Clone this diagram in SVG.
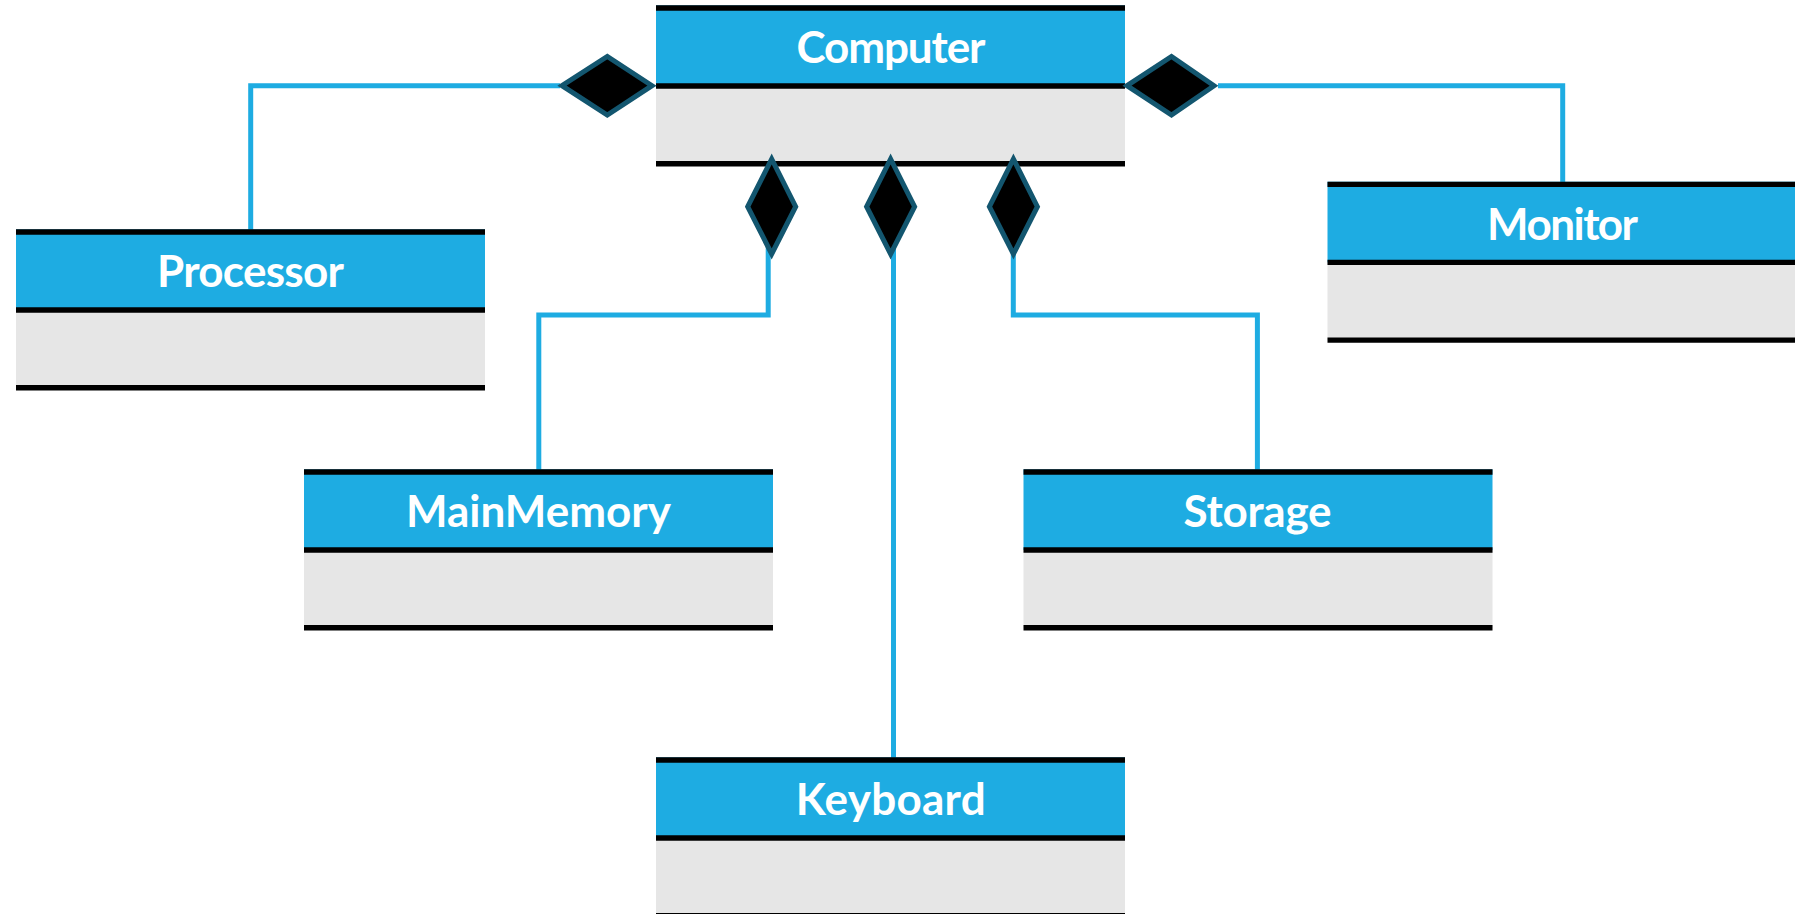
<svg xmlns="http://www.w3.org/2000/svg" width="1795" height="914" viewBox="0 0 1795 914">
  <style>
    .hdr { fill: #1EACE2; }
    .body { fill: #E6E6E6; }
    .rule { stroke: #000000; stroke-width: 5.4; fill: none; }
    .name { fill: #FFFFFF; font-family: Lato, "Open Sans", "DejaVu Sans", sans-serif; font-weight: 700; font-size: 44px; text-anchor: middle; }
    .link { stroke: #1EACE2; stroke-width: 5; fill: none; stroke-linejoin: miter; stroke-linecap: butt; }
    .comp { fill: #000000; stroke: #13566F; stroke-width: 5; stroke-linejoin: miter; stroke-miterlimit: 10; }
  </style>
  <defs>
    <!-- UML class box: header, separator, empty attribute compartment -->
    <g id="classBox">
      <rect class="hdr" x="0" y="0" width="469" height="80.7"/>
      <rect class="body" x="0" y="80.7" width="469" height="77.7"/>
      <line class="rule" x1="0" y1="2.7" x2="469" y2="2.7"/>
      <line class="rule" x1="0" y1="80.7" x2="469" y2="80.7"/>
      <line class="rule" x1="0" y1="158.4" x2="469" y2="158.4"/>
    </g>
  </defs>

  <rect width="1795" height="914" fill="#FFFFFF"/>

  <!-- connectors (composition links) -->
  <g id="connectors">
    <polyline class="link" points="560,85.7 250.7,85.7 250.7,230"/>
    <polyline class="link" points="1218,85.7 1562.7,85.7 1562.7,182"/>
    <polyline class="link" points="768.2,160 768.2,315 538.8,315 538.8,470"/>
    <polyline class="link" points="893.5,160 893.5,758"/>
    <polyline class="link" points="1013.3,160 1013.3,315 1257.4,315 1257.4,470"/>
  </g>

  <g id="computer">
    <use href="#classBox" x="656" y="5.3"/>
    <text class="name" x="891" y="63.3" textLength="189">Computer</text>
  </g>

  <g id="processor">
    <use href="#classBox" x="16" y="229.3"/>
    <text class="name" x="250.5" y="287.3" textLength="187">Processor</text>
  </g>

  <g id="monitor">
    <use href="#classBox" x="1327.5" y="181.7"/>
    <text class="name" x="1562.5" y="239.7" textLength="151">Monitor</text>
  </g>

  <g id="mainmemory">
    <use href="#classBox" x="304" y="469.3"/>
    <text class="name" x="538.5" y="527.3" textLength="265">MainMemory</text>
  </g>

  <g id="storage">
    <use href="#classBox" x="1023.5" y="469.3"/>
    <text class="name" x="1257.5" y="527.3" textLength="148">Storage</text>
  </g>

  <g id="keyboard">
    <use href="#classBox" x="656" y="757.3"/>
    <text class="name" x="890.7" y="815.3" textLength="190">Keyboard</text>
  </g>

  <!-- filled diamonds at the Computer end of each link -->
  <g id="composition-ends">
    <polygon class="comp" points="562,85.7 607.3,56.5 652,85.7 607.3,115"/>
    <polygon class="comp" points="1127,85.7 1171.5,56.5 1214,85.7 1171.5,115"/>
    <polygon class="comp" points="747.7,206.7 771.7,159 795.7,206.7 771.7,254"/>
    <polygon class="comp" points="866.6,206.7 890.6,159 914.6,206.7 890.6,254"/>
    <polygon class="comp" points="989.4,206.7 1013.4,159 1037.4,206.7 1013.4,254"/>
  </g>
</svg>
